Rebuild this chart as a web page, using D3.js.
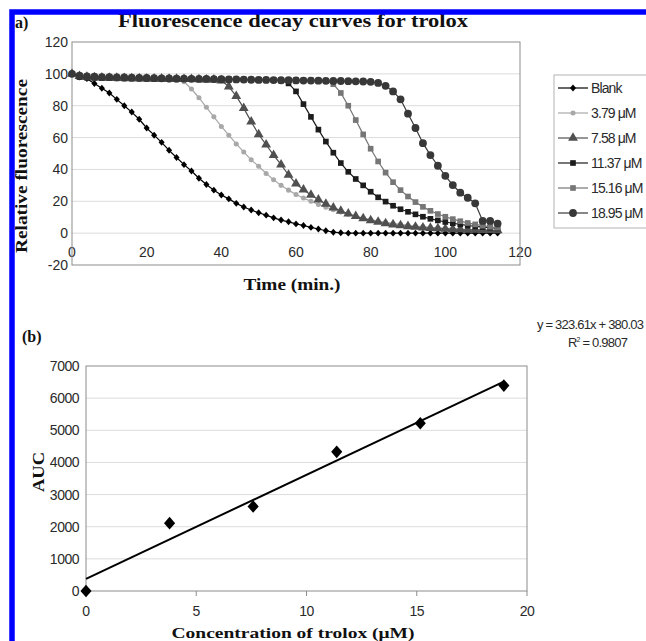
<!DOCTYPE html>
<html>
<head>
<meta charset="utf-8">
<script src="https://cdn.jsdelivr.net/npm/d3@7"></script>
<style>
  body { margin: 0; background: #fff; }
  svg { display: block; }
  .serif { font-family: "Liberation Serif", "Times New Roman", serif; font-weight: bold; fill: #111; }
  .sans { font-family: "Liberation Sans", Arial, sans-serif; fill: #2a2a2a; }
</style>
</head>
<body>
<div id="chart"></div>
<script>
// ---- data, panel a (relative fluorescence vs time)
const times = [0, 2, 4, 6, 8, 10, 12, 14, 16, 18, 20, 22, 24, 26, 28, 30, 32, 34, 36, 38,
  40, 42, 44, 46, 48, 50, 52, 54, 56, 58, 60, 62, 64, 66, 68, 70, 72, 74, 76, 78,
  80, 82, 84, 86, 88, 90, 92, 94, 96, 98, 100, 102, 104, 106, 108, 110, 112, 114];

const blank = [100, 98, 97, 94, 91, 88, 84, 80, 76, 71.5, 66, 61.5, 57, 52, 47.5, 43, 39, 34.5, 30.5, 27,
  24, 21.5, 18.7, 16.4, 14.5, 12.8, 11.3, 9.6, 8.2, 7.1, 5.8, 4.8, 3.6, 2.6, 1.5, 0.6, 0.2, 0, 0, 0,
  0, 0, 0, 0, 0, 0, 0, 0, 0, 0, 0, 0, 0, 0, 0, 0, 0, 0];

const c379 = [100, 98.2, 97.6, 97.4, 97.3, 97.1, 97, 97, 96.8, 96.8, 96.6, 96.5, 96.4, 96.2, 96, 95, 90.5, 85, 79, 73,
  67, 61.5, 56, 51, 46, 42, 37.5, 33.5, 30, 27, 24.3, 22, 20, 18, 16.3, 14.7, 13.2, 11.8, 10.6, 9.5,
  8.5, 7.6, 6.8, 6.1, 5.5, 5, 4.5, 4.1, 3.7, 3.4, 3.1, 2.8, 2.6, 2.4, 2.2, 2, 1.8, 1.6];

const c758 = [100, 98.5, 98, 97.8, 97.6, 97.5, 97.4, 97.3, 97.2, 97.1, 97, 97, 96.9, 96.8, 96.8, 96.7, 96.6, 96.5, 96.4, 96.3,
  95.8, 92, 86, 78.5, 70, 62, 55.5, 49, 43, 36.5, 31, 27.3, 24, 21, 18.3, 16, 14, 12.2, 10.6, 9.2,
  8, 7, 6.1, 5.4, 4.8, 4.3, 3.9, 3.5, 3.2, 2.9, 2.7, 2.5, 2.3, 2.1, 2, 1.9, 1.8, 1.7];

const c1137 = [100, 98, 97.6, 97.5, 97.4, 97.3, 97.2, 97.1, 97.1, 97, 97, 96.9, 96.9, 96.8, 96.8, 96.7, 96.7, 96.6, 96.6, 96.5,
  96.5, 96.4, 96.4, 96.3, 96.3, 96.2, 96.2, 96, 95.8, 94, 89, 81, 73, 65, 57.5, 50.5, 44, 38.5, 34, 30,
  26, 22.5, 19.8, 17.2, 15, 13.4, 11.8, 10.3, 9, 8, 7, 6.2, 5.5, 4.8, 4.2, 3.8, 3.4, 3];

const c1516 = [100, 98.6, 98.2, 98, 97.8, 97.7, 97.6, 97.5, 97.4, 97.3, 97.2, 97.2, 97.1, 97, 97, 96.9, 96.8, 96.8, 96.7, 96.6,
  96.6, 96.5, 96.5, 96.4, 96.4, 96.3, 96.3, 96.2, 96.2, 96.1, 96.1, 96, 95.9, 95.8, 95.5, 93.5, 88, 80, 71, 62,
  53, 45, 38, 32, 27, 23, 19.5, 16.5, 14, 12, 10.3, 8.8, 7.5, 6.4, 5.5, 4.7, 4, 3.4];

const c1895 = [100, 98.8, 98.4, 98.2, 98, 97.9, 97.8, 97.7, 97.6, 97.5, 97.4, 97.3, 97.2, 97.1, 97, 97, 96.9, 96.8, 96.8, 96.7,
  96.6, 96.5, 96.5, 96.4, 96.3, 96.2, 96.2, 96.1, 96, 96, 95.9, 95.8, 95.8, 95.7, 95.6, 95.5, 95.5, 95.4, 95.3, 95.2,
  95, 94.3, 92.5, 89, 84, 75, 66, 56.5, 49, 42.3, 36, 30.2, 25.4, 22.2, 18.7, 7.7, 7.7, 6];

const seriesNames = ["Blank", "3.79 μM", "7.58 μM", "11.37 μM", "15.16 μM", "18.95 μM"];
const seriesValues = [blank, c379, c758, c1137, c1516, c1895];

const fluoTicks = [-20, 0, 20, 40, 60, 80, 100, 120];
const timeTicks = [0, 20, 40, 60, 80, 100, 120];

// ---- data, panel b (AUC vs concentration)
const conc = [0, 3.79, 7.58, 11.37, 15.16, 18.95];
const auc = [0, 2110, 2630, 4330, 5220, 6390];
const fitSlope = 323.61;
const fitIntercept = 380.0;
const aucTicks = [0, 1000, 2000, 3000, 4000, 5000, 6000, 7000];
const concTicks = [0, 5, 10, 15, 20];

// excel style diamond (rotated square, slightly tall)
const excelDiamond = {
  draw: function(context, size) {
    const r = Math.sqrt(size / 2);
    context.moveTo(0, -r);
    context.lineTo(r * 0.88, 0);
    context.lineTo(0, r);
    context.lineTo(-r * 0.88, 0);
    context.closePath();
  }
};

// ---- styles
const seriesStyle = [
  {color: "#000000", symbol: excelDiamond, size: 24},
  {color: "#a8a8a8", symbol: d3.symbolCircle, size: 20},
  {color: "#505050", symbol: d3.symbolTriangle, size: 42},
  {color: "#1c1c1c", symbol: d3.symbolSquare, size: 32},
  {color: "#767676", symbol: d3.symbolSquare, size: 32},
  {color: "#383838", symbol: d3.symbolCircle, size: 48}
];

const width = 646, height = 641;
const svg = d3.select("#chart").append("svg")
  .attr("width", width)
  .attr("height", height);

// ================= panel a =================
const xa = d3.scaleLinear().domain([0, 120]).range([72, 520]);
const ya = d3.scaleLinear().domain([-20, 120]).range([265, 42]);

const panelA = svg.append("g");

// gridlines
panelA.selectAll("line.grid")
  .data(fluoTicks.filter(d => d > -20 && d < 120))
  .join("line")
  .attr("class", "grid")
  .attr("x1", xa(0)).attr("x2", xa(120))
  .attr("y1", d => ya(d)).attr("y2", d => ya(d))
  .attr("stroke", "#dcdcdc").attr("stroke-width", 1);

// tick labels
panelA.selectAll("text.ytick")
  .data(fluoTicks)
  .join("text")
  .attr("class", "sans ytick")
  .attr("x", 68).attr("y", d => ya(d) + 5)
  .attr("text-anchor", "end")
  .style("font-size", "14px")
  .text(d => d);

panelA.selectAll("text.xtick")
  .data(timeTicks)
  .join("text")
  .attr("class", "sans xtick")
  .attr("x", d => xa(d)).attr("y", ya(0) + 24)
  .attr("text-anchor", "middle")
  .style("font-size", "14px")
  .text(d => d);

// frame
panelA.append("rect")
  .attr("x", xa(0)).attr("y", ya(120))
  .attr("width", xa(120) - xa(0)).attr("height", ya(-20) - ya(120))
  .attr("fill", "none").attr("stroke", "#8c8c8c").attr("stroke-width", 1);

// series
const line = d3.line()
  .x((d, i) => xa(times[i]))
  .y(d => ya(d));

seriesValues.forEach(function(vals, k) {
  let st = seriesStyle[k];
  let g = panelA.append("g");
  g.append("path")
    .attr("d", line(vals))
    .attr("fill", "none")
    .attr("stroke", st.color)
    .attr("stroke-width", 1.2);
  g.selectAll("path.mk")
    .data(vals)
    .join("path")
    .attr("class", "mk")
    .attr("transform", (d, i) => `translate(${xa(times[i])}, ${ya(d)})`)
    .attr("d", d3.symbol().type(st.symbol).size(st.size))
    .attr("fill", st.color);
});

// legend
const legend = svg.append("g");
legend.append("rect")
  .attr("x", 554).attr("y", 75)
  .attr("width", 130).attr("height", 153)
  .attr("fill", "#fff").attr("stroke", "#b4b4b4");

seriesNames.forEach(function(name, k) {
  let st = seriesStyle[k];
  let yy = 88 + k * 25;
  legend.append("line")
    .attr("x1", 558).attr("x2", 588)
    .attr("y1", yy).attr("y2", yy)
    .attr("stroke", st.color).attr("stroke-width", 1.2);
  legend.append("path")
    .attr("transform", `translate(573, ${yy})`)
    .attr("d", d3.symbol().type(st.symbol).size(st.size))
    .attr("fill", st.color);
  legend.append("text")
    .attr("class", "sans")
    .attr("x", 591).attr("y", yy + 5)
    .style("font-size", "14px")
    .style("letter-spacing", "-0.9px")
    .text(name);
});

// titles
svg.append("text").attr("class", "serif")
  .attr("x", 293).attr("y", 27)
  .attr("text-anchor", "middle")
  .attr("textLength", 350)
  .attr("lengthAdjust", "spacingAndGlyphs")
  .style("font-size", "19px")
  .text("Fluorescence decay curves for trolox");

svg.append("text").attr("class", "serif")
  .attr("x", 15).attr("y", 28)
  .style("font-size", "16px")
  .text("a)");

svg.append("text").attr("class", "serif")
  .attr("transform", "translate(27, 166) rotate(-90)")
  .attr("text-anchor", "middle")
  .attr("textLength", 174)
  .attr("lengthAdjust", "spacingAndGlyphs")
  .style("font-size", "16px")
  .text("Relative fluorescence");

svg.append("text").attr("class", "serif")
  .attr("x", 292).attr("y", 290)
  .attr("text-anchor", "middle")
  .attr("textLength", 97)
  .attr("lengthAdjust", "spacingAndGlyphs")
  .style("font-size", "17px")
  .text("Time (min.)");

// ================= panel b =================
const xb = d3.scaleLinear().domain([0, 20]).range([86, 527]);
const yb = d3.scaleLinear().domain([0, 7000]).range([591, 366]);

const panelB = svg.append("g");

panelB.selectAll("line.grid")
  .data(aucTicks.filter(d => d > 0 && d < 7000))
  .join("line")
  .attr("class", "grid")
  .attr("x1", xb(0)).attr("x2", xb(20))
  .attr("y1", d => yb(d)).attr("y2", d => yb(d))
  .attr("stroke", "#dcdcdc").attr("stroke-width", 1);

panelB.append("rect")
  .attr("x", xb(0)).attr("y", yb(7000))
  .attr("width", xb(20) - xb(0)).attr("height", yb(0) - yb(7000))
  .attr("fill", "none").attr("stroke", "#8c8c8c").attr("stroke-width", 1);

panelB.selectAll("line.xt")
  .data(concTicks)
  .join("line")
  .attr("class", "xt")
  .attr("x1", d => xb(d)).attr("x2", d => xb(d))
  .attr("y1", yb(0)).attr("y2", yb(0) + 5)
  .attr("stroke", "#8c8c8c");

panelB.selectAll("text.ytick")
  .data(aucTicks)
  .join("text")
  .attr("class", "sans ytick")
  .attr("x", 79).attr("y", d => yb(d) + 5)
  .attr("text-anchor", "end")
  .style("font-size", "14px")
  .style("letter-spacing", "-0.5px")
  .text(d => d);

panelB.selectAll("text.xtick")
  .data(concTicks)
  .join("text")
  .attr("class", "sans xtick")
  .attr("x", d => xb(d)).attr("y", yb(0) + 25)
  .attr("text-anchor", "middle")
  .style("font-size", "14px")
  .style("letter-spacing", "-0.5px")
  .text(d => d);

// trendline over the data range
const fitX = d3.extent(conc);
panelB.append("line")
  .attr("x1", xb(fitX[0])).attr("y1", yb(fitSlope * fitX[0] + fitIntercept))
  .attr("x2", xb(fitX[1])).attr("y2", yb(fitSlope * fitX[1] + fitIntercept))
  .attr("stroke", "#000").attr("stroke-width", 2);

panelB.selectAll("path.pt")
  .data(conc)
  .join("path")
  .attr("class", "pt")
  .attr("transform", (d, i) => `translate(${xb(d)}, ${yb(auc[i])})`)
  .attr("d", d3.symbol().type(excelDiamond).size(80))
  .attr("fill", "#000");

svg.append("text").attr("class", "sans")
  .attr("x", 537).attr("y", 329)
  .style("font-size", "13px")
  .style("letter-spacing", "-0.8px")
  .text("y = 323.61x + 380.03");

const r2 = svg.append("text").attr("class", "sans")
  .attr("x", 568).attr("y", 347)
  .style("font-size", "13px")
  .style("letter-spacing", "-0.8px");
r2.append("tspan").text("R");
r2.append("tspan").attr("dy", -5).style("font-size", "7px").text("2");
r2.append("tspan").attr("dy", 5).text(" = 0.9807");

svg.append("text").attr("class", "serif")
  .attr("x", 22).attr("y", 342)
  .style("font-size", "16px")
  .text("(b)");

svg.append("text").attr("class", "serif")
  .attr("transform", "translate(44, 472) rotate(-90)")
  .attr("text-anchor", "middle")
  .attr("textLength", 40)
  .attr("lengthAdjust", "spacingAndGlyphs")
  .style("font-size", "17px")
  .text("AUC");

svg.append("text").attr("class", "serif")
  .attr("x", 293).attr("y", 638)
  .attr("text-anchor", "middle")
  .attr("textLength", 243)
  .attr("lengthAdjust", "spacingAndGlyphs")
  .style("font-size", "15px")
  .text("Concentration of trolox (μM)");

// blue border on top
svg.append("rect")
  .attr("x", 12).attr("y", 12)
  .attr("width", 800).attr("height", 800)
  .attr("fill", "none")
  .attr("stroke", "#0000ff")
  .attr("stroke-width", 5.5);
</script>
</body>
</html>
